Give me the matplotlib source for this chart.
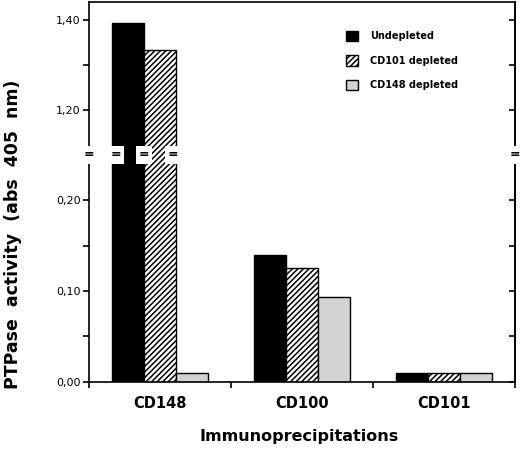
import matplotlib.pyplot as plt
from matplotlib.ticker import MultipleLocator, FuncFormatter
from matplotlib.patches import Patch
import numpy as np

plt.rcParams['font.family'] = 'DejaVu Sans'
plt.rcParams['hatch.linewidth'] = 1.1

# data
groups = ['CD148', 'CD100', 'CD101']
series = ['Undepleted', 'CD101 depleted', 'CD148 depleted']
undepleted = [1.394, 0.140, 0.010]
cd101_depleted = [1.333, 0.125, 0.010]
cd148_depleted = [0.010, 0.093, 0.010]

values = [undepleted, cd101_depleted, cd148_depleted]
colors = ['black', 'white', '#d2d2d2']
hatches = [None, '//////', None]

fig = plt.figure(figsize=(5.2, 4.49), dpi=100)
left, right = 89 / 520, 515 / 520
bottom, mid, top = 1 - 381.7 / 449, 1 - 155 / 449, 1 - 2 / 449
ax_lo = fig.add_axes([left, bottom, right - left, mid - bottom])
ax_hi = fig.add_axes([left, mid, right - left, top - mid], sharex=ax_lo)

x = np.arange(len(groups))
w = 0.225
for ax in (ax_lo, ax_hi):
    for i in range(3):
        ax.bar(x + (i - 1) * w, values[i], w, color=colors[i], hatch=hatches[i],
               edgecolor='black', linewidth=1.0, zorder=2)

ax_lo.set_ylim(0, 0.25)
ax_hi.set_ylim(1.10, 1.44)
ax_lo.set_xlim(-0.5, 2.5)

fmt = FuncFormatter(lambda v, p: f'{v:.2f}'.replace('.', ','))
for ax, maj, mn in ((ax_lo, 0.10, 0.05), (ax_hi, 0.20, 0.10)):
    ax.yaxis.set_major_locator(MultipleLocator(maj))
    ax.yaxis.set_minor_locator(MultipleLocator(mn))
    ax.yaxis.set_major_formatter(fmt)
    ax.tick_params(axis='y', which='both', direction='out', length=4, width=1.2,
                   labelsize=8, pad=2)
    for s in ax.spines.values():
        s.set_linewidth(1.2)
    # right side ticks point inward
    sec = ax.secondary_yaxis('right')
    sec.yaxis.set_major_locator(MultipleLocator(mn))
    sec.tick_params(axis='y', direction='in', length=4, width=1.2, labelright=False)
    sec.spines['right'].set_linewidth(1.2)

ax_hi.set_yticks([1.20, 1.40])
ax_lo.spines['top'].set_visible(False)
ax_hi.spines['bottom'].set_visible(False)
ax_hi.tick_params(axis='x', which='both', bottom=False, labelbottom=False)

# x ticks at group boundaries, labels at group centres
ax_lo.set_xticks(np.arange(-0.5, 3, 1))
ax_lo.set_xticklabels([])
ax_lo.set_xticks(x, minor=True)
ax_lo.set_xticklabels(groups, minor=True, fontsize=10.5, fontweight='bold')
ax_lo.tick_params(axis='x', which='major', direction='out', length=4, width=1.2)
ax_lo.tick_params(axis='x', which='minor', length=0, pad=10)

fig.text(0.5 * (left + right) - 0.005, 1 - 437 / 449, 'Immunoprecipitations',
         ha='center', va='center', fontsize=11.5, fontweight='bold')
fig.text(13 / 520, 1 - 234 / 449, 'PTPase  activity  (abs  405  nm)', rotation=90,
         ha='center', va='center', fontsize=12.5, fontweight='bold')

# axis break marks (drawn on the upper axes so nothing covers them)
brk_x = [-0.5, x[0] - 1.5 * w + 0.03, x[0] - 0.5 * w, x[0] + 0.5 * w - 0.02, 2.5]
trans = ax_hi.get_xaxis_transform()
for bx in brk_x:
    ax_hi.text(bx, 0.0, '=', transform=trans, ha='center', va='center',
               fontsize=9, fontweight='bold', zorder=5, clip_on=False,
               bbox=dict(facecolor='white', edgecolor='none', pad=2.0))

handles = [Patch(facecolor=colors[i], hatch=hatches[i], edgecolor='black', linewidth=1.0)
           for i in range(3)]
ax_hi.legend(handles, series, loc='upper left', bbox_to_anchor=(341 / 520, 1 - 26 / 449),
             bbox_transform=fig.transFigure, frameon=False, borderpad=0,
             prop={'size': 7, 'weight': 'bold'}, handlelength=1.25, handleheight=1.25,
             handletextpad=1.2, labelspacing=1.45)

fig.savefig('out.png', dpi=100)
